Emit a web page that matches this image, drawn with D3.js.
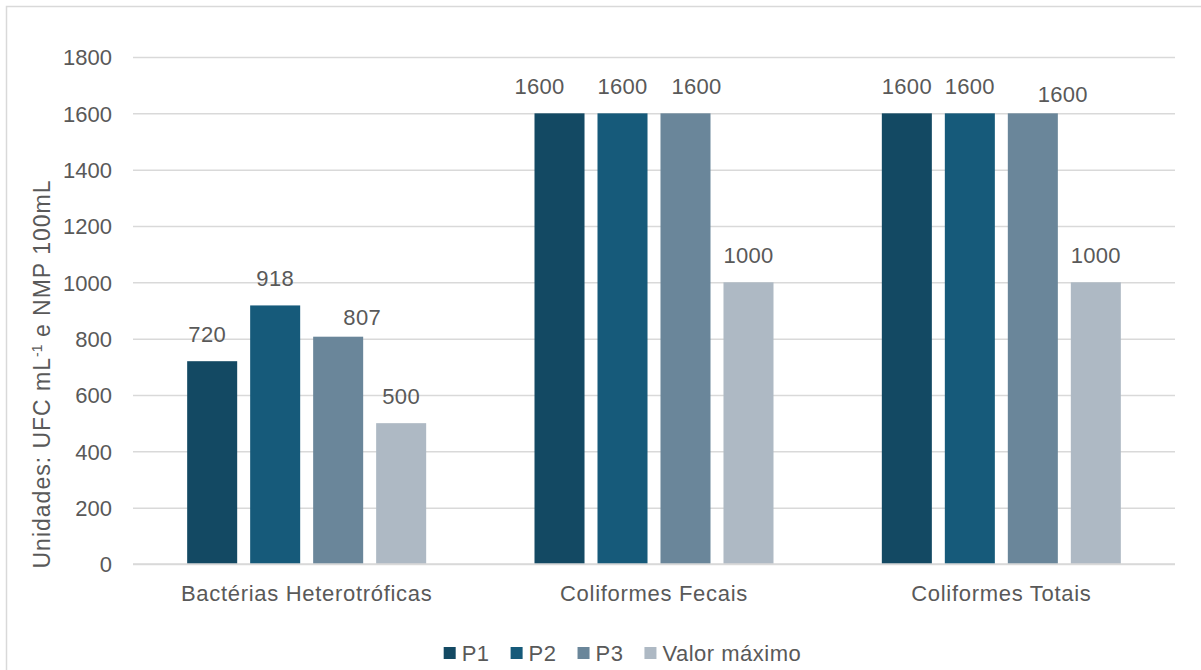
<!DOCTYPE html>
<html>
<head>
<meta charset="utf-8">
<script src="https://cdn.jsdelivr.net/npm/d3@7"></script>
<style>
  html, body { margin: 0; padding: 0; background: #ffffff; }
  svg { display: block; font-family: "Liberation Sans", Arial, sans-serif; }
</style>
</head>
<body>
<svg id="chart" width="1201" height="670"></svg>
<script>
// Microbiological counts per sampling point, with the regulatory maximum
const categories = ["Bactérias Heterotróficas", "Coliformes Fecais", "Coliformes Totais"];
const seriesNames = ["P1", "P2", "P3", "Valor máximo"];
const p1 = [720, 1600, 1600];
const p2 = [918, 1600, 1600];
const p3 = [807, 1600, 1600];
const valorMaximo = [500, 1000, 1000];
const yTicks = [0, 200, 400, 600, 800, 1000, 1200, 1400, 1600, 1800];

const seriesValues = [p1, p2, p3, valorMaximo];
const colors = ["#134963", "#165a7a", "#6a869a", "#aeb9c4"];
const textColor = "#595959";
const gridColor = "#d9d9d9";

const svg = d3.select("#chart");

// chart frame (extends past the bottom/right edge of the view)
svg.append("rect")
  .attr("x", 6.5).attr("y", 6.5)
  .attr("width", 1220).attr("height", 740)
  .attr("fill", "#ffffff")
  .attr("stroke", "#d9d9d9").attr("stroke-width", 1.5);

const plot = { left: 133, right: 1175, top: 57, bottom: 564 };

const y = d3.scaleLinear().domain([0, 1800]).range([plot.bottom, plot.top]);
const x0 = d3.scaleBand().domain(categories).range([plot.left, plot.right]).padding(0);
const groupWidth = 239;
const x1 = d3.scaleBand().domain(seriesNames).range([0, groupWidth]).paddingInner(0.206).paddingOuter(0);

// gridlines and tick labels
const yAxis = d3.axisLeft(y)
  .tickValues(yTicks)
  .tickFormat(d3.format("d"))
  .tickSize(-(plot.right - plot.left))
  .tickPadding(21);
const gAxis = svg.append("g")
  .attr("transform", `translate(${plot.left},0)`)
  .call(yAxis);
gAxis.select(".domain").remove();
gAxis.selectAll(".tick line").attr("stroke", gridColor).attr("stroke-width", 1.5);
gAxis.selectAll(".tick text")
  .attr("fill", textColor)
  .style("font-size", "22px")
  .attr("dy", "0.35em");

// bars
const groups = svg.append("g").selectAll("g")
  .data(categories)
  .join("g")
  .attr("transform", c => `translate(${x0(c) + (x0.bandwidth() - groupWidth) / 2},0)`);

const cells = groups.selectAll("g.cell")
  .data((c, ci) => seriesNames.map((s, si) => ({ s, si, ci, v: seriesValues[si][ci] })))
  .join("g").attr("class", "cell");

cells.append("rect")
  .attr("x", d => x1(d.s))
  .attr("width", x1.bandwidth())
  .attr("y", d => y(d.v))
  .attr("height", d => y(0) - y(d.v))
  .attr("fill", d => colors[d.si]);

// value labels; a few are shifted so neighbouring labels do not collide
// key: "categoryIndex-seriesIndex" -> [dx, dy]
const labelShift = {
  "0-0": [-5, 0],
  "0-2": [24, 7],
  "1-0": [-20, 0],
  "1-2": [11, 0],
  "2-2": [30, 8]
};
const shiftOf = d => labelShift[`${d.ci}-${d.si}`] || [0, 0];
cells.append("text")
  .attr("x", d => x1(d.s) + x1.bandwidth() / 2 + shiftOf(d)[0])
  .attr("y", d => y(d.v) - 19 + shiftOf(d)[1])
  .attr("text-anchor", "middle")
  .attr("fill", textColor)
  .style("font-size", "22px")
  .style("letter-spacing", "0.3px")
  .text(d => d.v);

// category axis labels
svg.append("g").selectAll("text")
  .data(categories)
  .join("text")
  .attr("x", c => x0(c) + x0.bandwidth() / 2)
  .attr("y", 601)
  .attr("text-anchor", "middle")
  .attr("fill", textColor)
  .style("font-size", "22px")
  .style("letter-spacing", "0.7px")
  .text(c => c);

// baseline
svg.append("line")
  .attr("x1", plot.left).attr("x2", plot.right)
  .attr("y1", y(0)).attr("y2", y(0))
  .attr("stroke", gridColor).attr("stroke-width", 1.5);

// y-axis title with superscript exponent
const yTitle = svg.append("text")
  .attr("transform", `translate(50,374) rotate(-90)`)
  .attr("text-anchor", "middle")
  .attr("fill", textColor)
  .style("font-size", "23px")
  .style("letter-spacing", "1px");
yTitle.append("tspan").text("Unidades: UFC mL");
yTitle.append("tspan").attr("dy", -8).style("font-size", "14px").style("letter-spacing", "0px").text("-1");
yTitle.append("tspan").attr("dy", 8).text(" e NMP 100mL");

// legend
const legend = svg.append("g");
let cursor = 0;
const itemGap = 21;
seriesNames.forEach((s, i) => {
  const item = legend.append("g").attr("transform", `translate(${cursor},0)`);
  item.append("rect").attr("x", 0).attr("y", -6).attr("width", 12).attr("height", 12).attr("fill", colors[i]);
  const t = item.append("text")
    .attr("x", 18).attr("y", 0).attr("dy", "0.35em")
    .attr("fill", textColor)
    .style("font-size", "22px")
    .style("letter-spacing", "0.5px")
    .text(s);
  cursor += 18 + t.node().getComputedTextLength() + itemGap;
});
const legendWidth = cursor - itemGap;
legend.attr("transform", `translate(${622.5 - legendWidth / 2},653)`);
</script>
</body>
</html>
